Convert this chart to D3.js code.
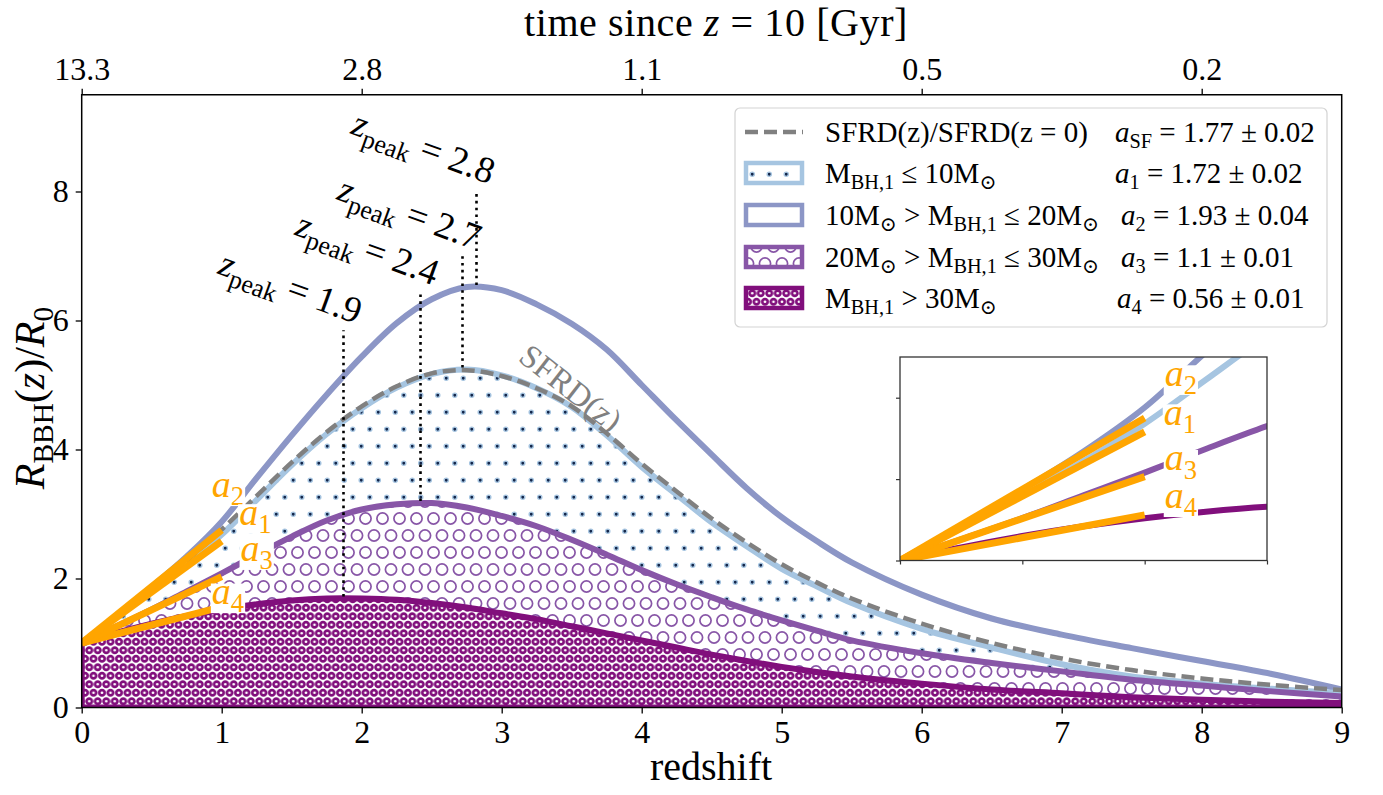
<!DOCTYPE html>
<html><head><meta charset="utf-8">
<script src="https://cdn.jsdelivr.net/npm/d3@7"></script>
<style>
body{margin:0;background:#fff}
svg{display:block}
text{font-family:"Liberation Serif","DejaVu Serif",serif;white-space:pre}
</style>
</head><body>
<svg id="chart" width="1383" height="795"></svg>
<script>
// ---------------- data ----------------
const redshift = [0,0.25,0.5,0.75,1,1.25,1.5,1.75,2,2.25,2.5,2.75,3,3.25,3.5,3.75,4,4.25,4.5,4.75,5,5.25,5.5,6,6.5,7,7.5,8,8.5,9];
const rateSFRD   = [1.0,1.41,1.83,2.28,2.76,3.28,3.8,4.27,4.67,4.98,5.18,5.23,5.14,4.95,4.67,4.25,3.78,3.35,2.93,2.56,2.22,1.94,1.69,1.3,1.0,0.76,0.58,0.45,0.35,0.27];
const rateBelow10 = [1.0,1.4,1.8,2.22,2.68,3.22,3.76,4.24,4.64,4.96,5.17,5.24,5.15,4.95,4.66,4.22,3.73,3.3,2.87,2.5,2.15,1.88,1.62,1.22,0.93,0.67,0.48,0.37,0.29,0.22];
const rate10to20 = [1.0,1.43,1.87,2.34,2.88,3.56,4.22,4.85,5.44,5.96,6.33,6.52,6.47,6.25,5.95,5.55,5.0,4.45,3.92,3.4,2.95,2.58,2.25,1.75,1.38,1.13,0.92,0.72,0.52,0.28];
const rate20to30 = [1.0,1.26,1.52,1.8,2.08,2.37,2.65,2.9,3.07,3.15,3.17,3.1,2.97,2.81,2.6,2.37,2.13,1.91,1.71,1.52,1.35,1.19,1.04,0.84,0.69,0.56,0.43,0.34,0.25,0.17];
const rateAbove30 = [1.0,1.16,1.3,1.42,1.52,1.6,1.66,1.69,1.69,1.67,1.62,1.55,1.46,1.37,1.26,1.15,1.04,0.93,0.82,0.72,0.63,0.55,0.48,0.37,0.28,0.22,0.16,0.12,0.09,0.07];

// low-redshift linear fits (start and end of the orange segments)
const fitRedshift = [0, 1];
const fitA1 = [1.0, 2.58];
const fitA2 = [1.0, 2.75];
const fitA3 = [1.0, 2.03];
const fitA4 = [1.0, 1.56];

const xTickValues = [0,1,2,3,4,5,6,7,8,9];
const yTickValues = [0,2,4,6,8];
const topTickRedshift = [0,2,4,6,8];
const topTickLabels = ["13.3","2.8","1.1","0.5","0.2"];

const peakRedshift = [1.87,2.42,2.72,2.82];
const peakLabels = ["1.9","2.4","2.7","2.8"];
const peakLineBottom = [1.72,3.2,5.27,6.55];
const peakLineTop = [5.85,6.45,7.0,8.02];

const legendLabels = [
  [["SFRD(z)/SFRD(z = 0)","r"]],
  [["M","r"],["BH,1","s"],[" ≤ 10M","r"],["⊙","s"]],
  [["10M","r"],["⊙","s"],[" > M","r"],["BH,1","s"],[" ≤ 20M","r"],["⊙","s"]],
  [["20M","r"],["⊙","s"],[" > M","r"],["BH,1","s"],[" ≤ 30M","r"],["⊙","s"]],
  [["M","r"],["BH,1","s"],[" > 30M","r"],["⊙","s"]]
];
const legendFits = [
  [["a","i"],["SF","s"],[" = 1.77 ± 0.02","r"]],
  [["a","i"],["1","s"],[" = 1.72 ± 0.02","r"]],
  [["a","i"],["2","s"],[" = 1.93 ± 0.04","r"]],
  [["a","i"],["3","s"],[" = 1.1 ± 0.01","r"]],
  [["a","i"],["4","s"],[" = 0.56 ± 0.01","r"]]
];

// ---------------- layout / style ----------------
const C = {sfrd:"#808080", b1:"#a6c5e1", b2:"#8c96c6", b3:"#8856a7", b4:"#810f7c", fit:"#ffa500"};
const svg = d3.select("#chart");
const x = d3.scaleLinear([0,9],[81.7,1341.7]);
const y = d3.scaleLinear([0,9.5],[707.5,94.75]);

const defs = svg.append("defs");
const pD = defs.append("pattern").attr("id","hDots").attr("patternUnits","userSpaceOnUse").attr("width",17).attr("height",34);
pD.append("rect").attr("width",17).attr("height",34).attr("fill","#fff");
[[4.25,4.25],[12.75,21.25]].forEach(p=>pD.append("circle").attr("cx",p[0]).attr("cy",p[1]).attr("r",2.1).attr("fill","#13264a").attr("stroke",C.b1).attr("stroke-width",1.4));
const pC = defs.append("pattern").attr("id","hCirc").attr("patternUnits","userSpaceOnUse").attr("width",17).attr("height",34);
pC.append("rect").attr("width",17).attr("height",34).attr("fill","#fff");
[[8.5,8.5],[0,25.5],[17,25.5]].forEach(p=>pC.append("circle").attr("cx",p[0]).attr("cy",p[1]).attr("r",5.6).attr("fill","none").attr("stroke",C.b3).attr("stroke-width",1.7));
const pS = defs.append("pattern").attr("id","hDense").attr("patternUnits","userSpaceOnUse").attr("width",8.5).attr("height",17);
pS.append("rect").attr("width",8.5).attr("height",17).attr("fill","#fff");
[[4.25,4.25],[0,12.75],[8.5,12.75]].forEach(p=>pS.append("circle").attr("cx",p[0]).attr("cy",p[1]).attr("r",2.7).attr("fill","none").attr("stroke",C.b4).attr("stroke-width",2.7));

defs.append("clipPath").attr("id","clipMain").append("rect")
  .attr("x",x(0)).attr("y",y(9.5)).attr("width",x(9)-x(0)).attr("height",y(0)-y(9.5));

function mtext(t, parts, size){
  let shifted=false;
  parts.forEach(([s,k])=>{
    const sp=t.append("tspan").text(s);
    const sub = (k==="s"||k==="si");
    if(sub){ sp.attr("font-size",size*0.7); if(!shifted){sp.attr("dy",size*0.22); shifted=true;} }
    else { sp.attr("font-size",size); if(shifted){sp.attr("dy",-size*0.22); shifted=false;} }
    if(k==="i"||k==="si") sp.attr("font-style","italic");
  });
  return t;
}

// ---------------- main plot ----------------
const plot = svg.append("g").attr("clip-path","url(#clipMain)");
const pts = vals => redshift.map((z,i)=>[z,vals[i]]);
const curve = d3.curveCatmullRom.alpha(0.5);
const area = d3.area().x(d=>x(d[0])).y0(y(0)).y1(d=>y(d[1])).curve(curve);
const line = d3.line().x(d=>x(d[0])).y(d=>y(d[1])).curve(curve);

const fills = [
  {v:rate10to20, fill:"#fff", c:C.b2},
  {v:rateBelow10, fill:"url(#hDots)", c:C.b1},
  {v:rate20to30, fill:"url(#hCirc)", c:C.b3},
  {v:rateAbove30, fill:"url(#hDense)", c:C.b4}
];
fills.forEach(f=>{
  plot.append("path").attr("d",area(pts(f.v))).attr("fill",f.fill).attr("stroke",f.c).attr("stroke-width",6).attr("stroke-linejoin","round");
});
plot.append("path").attr("d",line(pts(rateSFRD))).attr("fill","none").attr("stroke",C.sfrd).attr("stroke-width",4.5).attr("stroke-dasharray","13,6");

peakRedshift.forEach((z,i)=>{
  plot.append("line").attr("x1",x(z)).attr("x2",x(z)).attr("y1",y(peakLineBottom[i])).attr("y2",y(peakLineTop[i]))
    .attr("stroke","#000").attr("stroke-width",2.6).attr("stroke-dasharray","2.6,4.2");
});

const fitLine = d3.line().x((d,i)=>x(fitRedshift[i])).y(d=>y(d));
[fitA4,fitA3,fitA1,fitA2].forEach(f=>{
  plot.append("path").attr("d",fitLine(f)).attr("fill","none").attr("stroke",C.fit).attr("stroke-width",7);
});

function boxedLabel(g, cx, cy, parts, size){
  const grp = g.append("g");
  const bg = grp.append("rect").attr("fill","#fff");
  const t = mtext(grp.append("text").attr("x",cx).attr("y",cy+size*0.18).attr("text-anchor","middle").attr("fill",C.fit), parts, size);
  const b = t.node().getBBox();
  bg.attr("x",b.x-1).attr("y",cy-size*0.36).attr("width",b.width+2).attr("height",size*0.78);
}
const aLabelsMain = [[1.045,3.37,"2"],[1.24,2.94,"1"],[1.25,2.38,"3"],[1.045,1.71,"4"]];
aLabelsMain.forEach(l=>boxedLabel(svg, x(l[0]), y(l[1]), [["a","i"],[l[2],"s"]], 38));

peakRedshift.forEach((z,i)=>{
  const ax=x(z)+13, ay=y(peakLineTop[i])-6;
  mtext(svg.append("text").attr("transform",`translate(${ax},${ay}) rotate(20)`).attr("text-anchor","end").attr("fill","#000"),
    [["z","i"],["peak","s"],[" = "+peakLabels[i],"r"]], 37);
});

svg.append("text").attr("transform","translate(517,360) rotate(38)").attr("fill",C.sfrd).attr("font-size",33).text("SFRD(z)");

// axes frame
svg.append("rect").attr("x",x(0)).attr("y",y(9.5)).attr("width",x(9)-x(0)).attr("height",y(0)-y(9.5))
  .attr("fill","none").attr("stroke","#000").attr("stroke-width",1.5);
const axB = svg.append("g").attr("transform",`translate(0,${y(0)})`)
  .call(d3.axisBottom(x).tickValues(xTickValues).tickSize(6).tickPadding(7).tickFormat(d3.format("d")));
const axL = svg.append("g").attr("transform",`translate(${x(0)},0)`)
  .call(d3.axisLeft(y).tickValues(yTickValues).tickSize(6).tickPadding(7).tickFormat(d3.format("d")));
const axT = svg.append("g").attr("transform",`translate(0,${y(9.5)})`)
  .call(d3.axisTop(x).tickValues(topTickRedshift).tickSize(6).tickPadding(9).tickFormat((d,i)=>topTickLabels[i]));
[axB,axL,axT].forEach(a=>{
  a.select(".domain").remove();
  a.selectAll("line").attr("stroke","#000").attr("stroke-width",1.3);
  a.selectAll("text").attr("font-family","Liberation Serif").attr("font-size",32).attr("fill","#000");
});

svg.append("text").attr("x",711).attr("y",780).attr("text-anchor","middle").attr("font-size",40).text("redshift");
mtext(svg.append("text").attr("x",716).attr("y",36).attr("text-anchor","middle").attr("letter-spacing",0.6),
  [["time since ","r"],["z","i"],[" = 10 [Gyr]","r"]], 40);
mtext(svg.append("text").attr("transform","translate(44,398) rotate(-90)").attr("text-anchor","middle"),
  [["R","i"],["BBH","s"],["(","r"],["z","i"],[")/","r"],["R","i"],["0","s"]], 42);

// ---------------- legend ----------------
const lg = svg.append("g");
lg.append("rect").attr("x",735).attr("y",108).attr("width",592).attr("height",219).attr("rx",5)
  .attr("fill","#fff").attr("fill-opacity",0.85).attr("stroke","#d3d3d3").attr("stroke-width",1.2);
const rowY = [132,173,215,257,298];
const fitX = [1115,1115,1121,1121,1117];
const handles = [null,{f:"url(#hDots)",c:C.b1},{f:"#fff",c:C.b2},{f:"url(#hCirc)",c:C.b3},{f:"url(#hDense)",c:C.b4}];
rowY.forEach((ry,i)=>{
  if(i===0){
    lg.append("line").attr("x1",745).attr("x2",803).attr("y1",ry).attr("y2",ry).attr("stroke",C.sfrd).attr("stroke-width",4.5).attr("stroke-dasharray","13,6");
  } else {
    lg.append("rect").attr("x",746).attr("y",ry-10).attr("width",56).attr("height",20)
      .attr("fill",handles[i].f).attr("stroke",handles[i].c).attr("stroke-width",4.5);
  }
  mtext(lg.append("text").attr("x",825).attr("y",ry+10), legendLabels[i], 29);
  mtext(lg.append("text").attr("x",fitX[i]).attr("y",ry+10), legendFits[i], 29);
});

// ---------------- inset ----------------
const ix = d3.scaleLinear([0,1.5],[900,1267]);
const iy = d3.scaleLinear([1,3.5],[560.5,357]);
defs.append("clipPath").attr("id","clipIn").append("rect")
  .attr("x",ix(0)).attr("y",iy(3.5)).attr("width",ix(1.5)-ix(0)).attr("height",iy(1)-iy(3.5));
const ins = svg.append("g");
ins.append("rect").attr("x",ix(0)).attr("y",iy(3.5)).attr("width",ix(1.5)-ix(0)).attr("height",iy(1)-iy(3.5)).attr("fill","#fff");
const ip = ins.append("g").attr("clip-path","url(#clipIn)");
const iline = d3.line().x(d=>ix(d[0])).y(d=>iy(d[1])).curve(curve);
[[rate10to20,C.b2],[rateBelow10,C.b1],[rate20to30,C.b3],[rateAbove30,C.b4]].forEach(s=>{
  ip.append("path").attr("d",iline(pts(s[0]))).attr("fill","none").attr("stroke",s[1]).attr("stroke-width",6);
});
const ifit = d3.line().x((d,i)=>ix(fitRedshift[i])).y(d=>iy(d));
[fitA4,fitA3,fitA1,fitA2].forEach(f=>{
  ip.append("path").attr("d",ifit(f)).attr("fill","none").attr("stroke",C.fit).attr("stroke-width",7);
});
ins.append("rect").attr("x",ix(0)).attr("y",iy(3.5)).attr("width",ix(1.5)-ix(0)).attr("height",iy(1)-iy(3.5))
  .attr("fill","none").attr("stroke","#333").attr("stroke-width",1.3);
const iaB = ins.append("g").attr("transform",`translate(0,${iy(1)})`).call(d3.axisBottom(ix).tickValues([0,0.5,1,1.5]).tickSize(4).tickFormat(""));
const iaL = ins.append("g").attr("transform",`translate(${ix(0)},0)`).call(d3.axisLeft(iy).tickValues([1,2,3]).tickSize(4).tickFormat(""));
[iaB,iaL].forEach(a=>{a.select(".domain").remove(); a.selectAll("line").attr("stroke","#333").attr("stroke-width",1.2);});
const aLabelsInset = [[1.148,3.23,"2"],[1.144,2.75,"1"],[1.148,2.19,"3"],[1.148,1.73,"4"]];
aLabelsInset.forEach(l=>boxedLabel(ins, ix(l[0]), iy(l[1]), [["a","i"],[l[2],"s"]], 38));
</script>
</body></html>
